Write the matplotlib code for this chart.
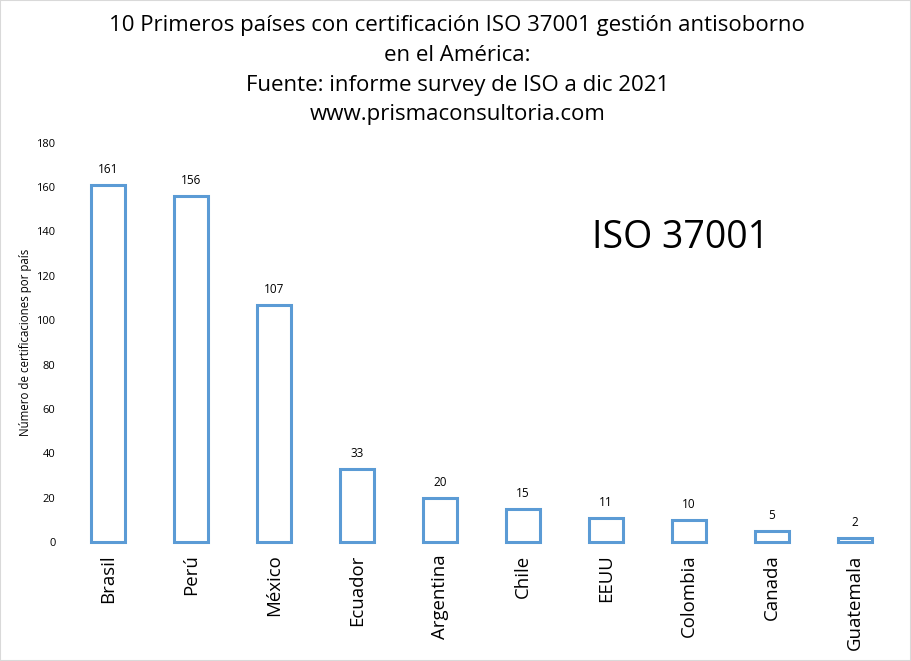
import matplotlib
matplotlib.use("Agg")
import matplotlib.pyplot as plt

# datos
paises = ["Brasil", "Perú", "México", "Ecuador", "Argentina", "Chile", "EEUU", "Colombia", "Canada", "Guatemala"]
certificados = [161, 156, 107, 33, 20, 15, 11, 10, 5, 2]
y_ticks = [0, 20, 40, 60, 80, 100, 120, 140, 160, 180]

titulo = ["10 Primeros países con certificación ISO 37001 gestión antisoborno",
          "en el América:",
          "Fuente: informe survey de ISO a dic 2021",
          "www.prismaconsultoria.com"]

plt.rcParams['font.family'] = ['Open Sans', 'DejaVu Sans']
azul = "#5B9BD5"

fig = plt.figure(figsize=(9.11, 6.61), dpi=100)
ax = fig.add_axes([0.073, 0.180, 0.911, 0.604])

x = list(range(len(paises)))
barras = ax.bar(x, certificados, width=0.4, facecolor="white", edgecolor=azul, linewidth=2.2)
for b in barras:
    b.set_clip_on(False)
for i, v in enumerate(certificados):
    ax.text(i, v + 4, str(v), ha="center", va="bottom", fontsize=8.5)

ax.set_xlim(-0.5, len(paises) - 0.5)
ax.set_ylim(0, 180)
ax.set_yticks(y_ticks)
ax.set_yticklabels([str(t) for t in y_ticks], fontsize=8)
ax.set_xticks(x)
ax.set_xticklabels(paises, rotation=90, fontsize=13.4)
ax.tick_params(axis="both", length=0)
ax.tick_params(axis="y", pad=8)
ax.tick_params(axis="x", pad=9)
for s in ax.spines.values():
    s.set_visible(False)
ax.set_ylabel("Número de certificaciones por país", fontsize=8.3, labelpad=3)

for k, linea in enumerate(titulo):
    fig.text(0.502, 1 - (26 + 29.5 * k) / 661, linea, ha="center", va="center", fontsize=16)

ax.text(0.74, 0.762, "ISO 37001", transform=ax.transAxes, ha="center", va="center", fontsize=27)

# borde
fig.patches.append(plt.Rectangle((0, 0), 1, 1, transform=fig.transFigure,
                                 fill=False, edgecolor="#D9D9D9", linewidth=1.5))

fig.savefig("out.png", dpi=100)
